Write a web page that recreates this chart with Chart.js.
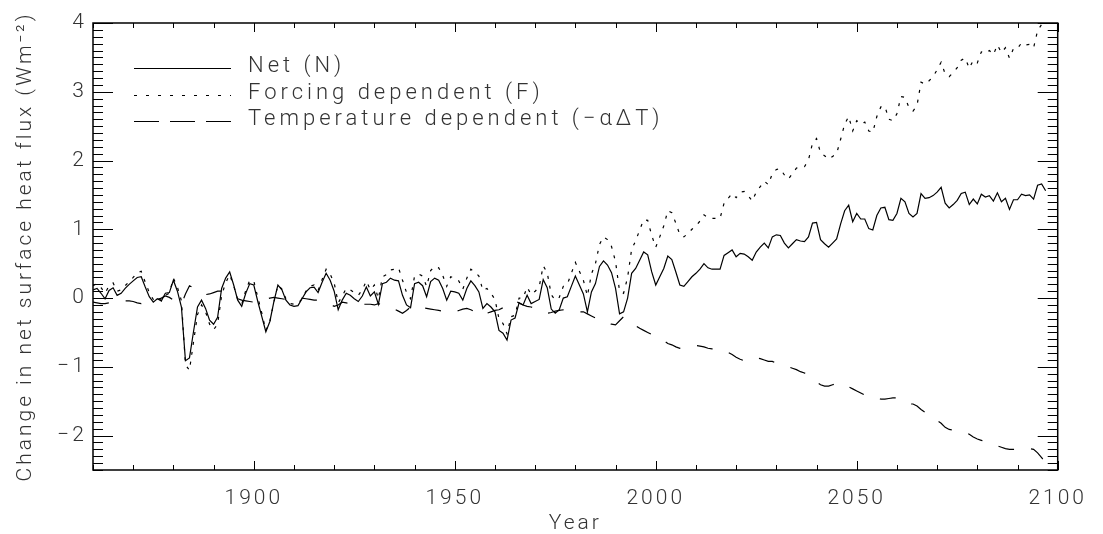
<!DOCTYPE html>
<html>
<head>
<meta charset="utf-8">
<script src="https://cdn.jsdelivr.net/npm/chart.js@4.4.1/dist/chart.umd.min.js"></script>
<style>
  html, body { margin: 0; padding: 0; background: #fff; }
  #wrap { width: 1103px; height: 534px; }
</style>
</head>
<body>
<div id="wrap"><canvas id="fluxChart" width="1103" height="534"></canvas></div>
<script>
// Annual values, first year 1860, last year 2097 (Wm-2)
const firstYear = 1860;

const netFlux = [
  0.12, 0.14, 0.07, -0.01, 0.11, 0.15, 0.04, 0.07, 0.14, 0.20,
  0.25, 0.30, 0.31, 0.16, 0.02, -0.06, -0.01, -0.04, 0.07, 0.08,
  0.26, 0.10, -0.13, -0.91, -0.87, -0.49, -0.13, -0.03, -0.15, -0.32,
  -0.38, -0.28, 0.14, 0.29, 0.38, 0.19, -0.03, -0.12, 0.07, 0.21,
  0.19, -0.05, -0.27, -0.49, -0.34, -0.05, 0.19, 0.12, -0.03, -0.10,
  -0.12, -0.11, -0.01, 0.09, 0.15, 0.16, 0.08, 0.23, 0.36, 0.26,
  0.10, -0.17, -0.03, 0.07, 0.04, -0.01, -0.05, 0.03, 0.16, 0.03,
  0.09, -0.09, 0.21, 0.23, 0.29, 0.26, 0.25, 0.04, -0.10, -0.14,
  0.21, 0.23, 0.18, 0.02, 0.24, 0.29, 0.26, 0.14, -0.03, 0.10,
  0.09, 0.07, -0.03, 0.14, 0.25, 0.18, 0.09, -0.15, -0.08, -0.13,
  -0.20, -0.47, -0.51, -0.61, -0.32, -0.29, -0.07, -0.10, 0.04, -0.08,
  -0.05, -0.02, 0.27, 0.15, -0.16, -0.22, -0.17, 0.00, 0.02, 0.17,
  0.32, 0.19, 0.06, -0.20, 0.09, 0.21, 0.46, 0.54, 0.48, 0.37,
  0.14, -0.23, -0.20, 0.00, 0.36, 0.43, 0.55, 0.67, 0.63, 0.38,
  0.19, 0.31, 0.43, 0.61, 0.56, 0.38, 0.19, 0.17, 0.24, 0.31,
  0.36, 0.42, 0.50, 0.44, 0.42, 0.42, 0.42, 0.62, 0.66, 0.70,
  0.60, 0.65, 0.64, 0.60, 0.55, 0.67, 0.74, 0.80, 0.73, 0.89,
  0.92, 0.91, 0.80, 0.73, 0.79, 0.85, 0.83, 0.82, 0.89, 1.09,
  1.10, 0.85, 0.79, 0.74, 0.80, 0.86, 1.08, 1.27, 1.35, 1.11,
  1.23, 1.15, 1.15, 1.01, 0.99, 1.20, 1.31, 1.32, 1.14, 1.13,
  1.23, 1.45, 1.40, 1.23, 1.18, 1.23, 1.52, 1.45, 1.46, 1.49,
  1.54, 1.61, 1.38, 1.31, 1.36, 1.42, 1.52, 1.54, 1.36, 1.44,
  1.37, 1.51, 1.47, 1.49, 1.41, 1.53, 1.40, 1.45, 1.29, 1.43,
  1.43, 1.51, 1.49, 1.50, 1.44, 1.64, 1.66, 1.56
];

const forcingFlux = [
  0.18, 0.21, 0.15, 0.07, 0.18, 0.22, 0.10, 0.12, 0.18, 0.24,
  0.30, 0.37, 0.39, 0.23, 0.08, -0.02, 0.01, -0.04, 0.04, 0.07,
  0.29, 0.16, -0.04, -0.97, -1.05, -0.64, -0.24, -0.10, -0.20, -0.38,
  -0.46, -0.38, 0.04, 0.22, 0.34, 0.18, -0.02, -0.09, 0.11, 0.26,
  0.25, 0.01, -0.22, -0.47, -0.34, -0.06, 0.19, 0.13, -0.01, -0.08,
  -0.09, -0.08, -0.01, 0.10, 0.17, 0.19, 0.11, 0.27, 0.42, 0.35,
  0.22, -0.07, 0.03, 0.14, 0.12, 0.08, 0.04, 0.12, 0.25, 0.12,
  0.19, -0.01, 0.31, 0.34, 0.41, 0.42, 0.44, 0.26, 0.08, -0.01,
  0.32, 0.35, 0.32, 0.17, 0.40, 0.46, 0.44, 0.33, 0.17, 0.31,
  0.29, 0.25, 0.13, 0.29, 0.42, 0.38, 0.32, 0.11, 0.14, 0.07,
  -0.02, -0.30, -0.37, -0.52, -0.27, -0.25, 0.00, 0.00, 0.16, 0.05,
  0.10, 0.16, 0.47, 0.37, 0.05, -0.03, 0.01, 0.17, 0.20, 0.36,
  0.52, 0.39, 0.26, 0.03, 0.35, 0.50, 0.78, 0.89, 0.85, 0.75,
  0.53, 0.10, 0.07, 0.30, 0.71, 0.83, 0.99, 1.14, 1.13, 0.91,
  0.74, 0.89, 1.05, 1.27, 1.24, 1.09, 0.92, 0.89, 0.94, 1.00,
  1.05, 1.12, 1.21, 1.17, 1.16, 1.16, 1.16, 1.38, 1.45, 1.52,
  1.46, 1.54, 1.55, 1.49, 1.41, 1.54, 1.62, 1.70, 1.65, 1.81,
  1.87, 1.88, 1.79, 1.73, 1.81, 1.89, 1.90, 1.91, 2.01, 2.25,
  2.32, 2.11, 2.07, 2.02, 2.06, 2.10, 2.31, 2.53, 2.64, 2.43,
  2.58, 2.53, 2.56, 2.43, 2.41, 2.64, 2.78, 2.79, 2.60, 2.58,
  2.68, 2.93, 2.92, 2.77, 2.72, 2.80, 3.14, 3.11, 3.16, 3.22,
  3.32, 3.43, 3.26, 3.22, 3.28, 3.35, 3.46, 3.49, 3.34, 3.46,
  3.42, 3.58, 3.56, 3.60, 3.54, 3.68, 3.57, 3.64, 3.49, 3.63,
  3.63, 3.71, 3.68, 3.69, 3.64, 3.89, 3.98, 3.95
];

const tempFlux = [
  -0.06, -0.07, -0.08, -0.08, -0.07, -0.07, -0.06, -0.05, -0.04, -0.04,
  -0.05, -0.07, -0.08, -0.07, -0.06, -0.04, -0.02, 0.00, 0.03, 0.01,
  -0.03, -0.06, -0.09, 0.06, 0.18, 0.15, 0.11, 0.07, 0.05, 0.06,
  0.08, 0.10, 0.10, 0.07, 0.04, 0.01, -0.01, -0.03, -0.04, -0.05,
  -0.06, -0.06, -0.05, -0.02, 0.00, 0.01, 0.00, -0.01, -0.02, -0.02,
  -0.03, -0.03, 0.00, -0.01, -0.02, -0.03, -0.03, -0.04, -0.06, -0.09,
  -0.12, -0.10, -0.06, -0.07, -0.08, -0.09, -0.09, -0.09, -0.09, -0.09,
  -0.10, -0.08, -0.10, -0.11, -0.12, -0.16, -0.19, -0.22, -0.18, -0.13,
  -0.11, -0.12, -0.14, -0.15, -0.16, -0.17, -0.18, -0.19, -0.20, -0.21,
  -0.20, -0.18, -0.16, -0.15, -0.17, -0.20, -0.23, -0.26, -0.22, -0.20,
  -0.18, -0.17, -0.14, -0.09, -0.05, -0.04, -0.07, -0.10, -0.12, -0.13,
  -0.15, -0.18, -0.20, -0.22, -0.21, -0.19, -0.18, -0.17, -0.18, -0.19,
  -0.20, -0.20, -0.20, -0.23, -0.26, -0.29, -0.32, -0.35, -0.37, -0.38,
  -0.39, -0.33, -0.27, -0.30, -0.35, -0.40, -0.44, -0.47, -0.50, -0.53,
  -0.55, -0.58, -0.62, -0.66, -0.68, -0.71, -0.73, -0.72, -0.70, -0.69,
  -0.69, -0.70, -0.71, -0.73, -0.74, -0.74, -0.74, -0.76, -0.79, -0.82,
  -0.86, -0.89, -0.91, -0.89, -0.86, -0.87, -0.88, -0.90, -0.92, -0.92,
  -0.95, -0.97, -0.99, -1.00, -1.02, -1.04, -1.07, -1.09, -1.12, -1.16,
  -1.22, -1.26, -1.28, -1.28, -1.26, -1.24, -1.23, -1.26, -1.29, -1.32,
  -1.35, -1.38, -1.41, -1.42, -1.42, -1.44, -1.47, -1.47, -1.46, -1.45,
  -1.45, -1.48, -1.52, -1.54, -1.54, -1.57, -1.62, -1.66, -1.70, -1.73,
  -1.78, -1.82, -1.88, -1.91, -1.92, -1.93, -1.94, -1.95, -1.98, -2.02,
  -2.05, -2.07, -2.09, -2.11, -2.13, -2.15, -2.17, -2.19, -2.20, -2.20,
  -2.20, -2.20, -2.19, -2.19, -2.20, -2.25, -2.32, -2.39
];

const seriesLabels = ['Net (N)', 'Forcing dependent (F)', 'Temperature dependent (\u2212\u03B1\u0394T)'];
const xTickValues = [1900, 1950, 2000, 2050, 2100];
const yTickValues = [-2, -1, 0, 1, 2, 3, 4];

const textColor = '#333';
const tickFont = { family: 'Roboto', size: 21, weight: 300 };

// Turn an annual series into {x, y} points
function toPoints(values) {
    return values.map((v, i) => ({ x: firstYear + i, y: v }));
}

// Frame, inward IDL-style tick marks and the legend in the upper left
const frameAndLegend = {
    id: 'frameAndLegend',
    beforeLayout(chart) { chart.ctx.letterSpacing = '3px'; },
    beforeDraw(chart) { chart.ctx.letterSpacing = '3px'; },
    afterDraw(chart) {
        const ctx = chart.ctx;
        const a = chart.chartArea;
        const xs = chart.scales.x;
        const ys = chart.scales.y;
        ctx.save();
        ctx.strokeStyle = '#000';
        ctx.lineWidth = 1.5;
        ctx.strokeRect(a.left, a.top, a.right - a.left, a.bottom - a.top);

        ctx.lineWidth = 1;
        ctx.beginPath();
        for (let i = -25; i <= 40; i++) {
            const py = Math.round(ys.getPixelForValue(i / 10)) + 0.5;
            const len = i % 10 === 0 ? 20 : 10;
            ctx.moveTo(a.left, py); ctx.lineTo(a.left + len, py);
            ctx.moveTo(a.right, py); ctx.lineTo(a.right - len, py);
        }
        for (let yr = 1860; yr <= 2100; yr += 10) {
            const px = Math.round(xs.getPixelForValue(yr)) + 0.5;
            const len = yr % 50 === 0 ? 9 : 5;
            ctx.moveTo(px, a.bottom); ctx.lineTo(px, a.bottom - len);
            ctx.moveTo(px, a.top); ctx.lineTo(px, a.top + len);
        }
        ctx.stroke();

        // legend
        const lx0 = a.left + 41, lx1 = a.left + 138;
        const rows = [a.top + 45, a.top + 72, a.top + 98];
        const dashes = [[], [3, 9], [25, 11]];
        ctx.letterSpacing = '4px';
        ctx.font = '300 22px Roboto';
        ctx.fillStyle = textColor;
        ctx.textBaseline = 'middle';
        ctx.textAlign = 'left';
        rows.forEach((ry, i) => {
            ctx.beginPath();
            ctx.setLineDash(dashes[i]);
            ctx.lineWidth = 1.2;
            ctx.moveTo(lx0, ry + 0.5);
            ctx.lineTo(lx1, ry + 0.5);
            ctx.stroke();
            ctx.fillText(seriesLabels[i], a.left + 155, ry - 2);
        });
        ctx.restore();
    }
};

document.addEventListener('DOMContentLoaded', function() {
    const ctx = document.getElementById('fluxChart').getContext('2d');
    new Chart(ctx, {
        type: 'line',
        data: {
            datasets: [
                { label: seriesLabels[0], data: toPoints(netFlux), borderColor: '#000', borderWidth: 1.2 },
                { label: seriesLabels[1], data: toPoints(forcingFlux), borderColor: '#000', borderWidth: 1.2, borderDash: [3, 7] },
                { label: seriesLabels[2], data: toPoints(tempFlux), borderColor: '#000', borderWidth: 1.2, borderDash: [16, 17] }
            ]
        },
        options: {
            responsive: false,
            animation: false,
            devicePixelRatio: 1,
            layout: { padding: { left: 0, right: 31, top: 23, bottom: 0 } },
            elements: { point: { radius: 0 }, line: { tension: 0 } },
            plugins: { legend: { display: false }, tooltip: { enabled: false } },
            scales: {
                x: {
                    type: 'linear',
                    min: 1860,
                    max: 2100,
                    afterBuildTicks: (scale) => { scale.ticks = xTickValues.map(v => ({ value: v })); },
                    afterFit: (scale) => { scale.height = 64; },
                    grid: { display: false, drawTicks: false },
                    border: { display: false },
                    ticks: {
                        color: textColor, font: tickFont, padding: 16, maxRotation: 0,
                        callback: (v) => String(v)
                    },
                    title: { display: true, text: 'Year', color: textColor, font: tickFont, padding: { top: 0, bottom: -2 } }
                },
                y: {
                    min: -2.5,
                    max: 4,
                    afterBuildTicks: (scale) => { scale.ticks = yTickValues.map(v => ({ value: v })); },
                    afterFit: (scale) => { scale.width = 93; },
                    grid: { display: false, drawTicks: false },
                    border: { display: false },
                    ticks: {
                        color: textColor, font: tickFont, padding: 6,
                        callback: (v) => (v < 0 ? '\u2212' + Math.abs(v) : String(v))
                    },
                    title: {
                        display: true, text: 'Change in net surface heat flux (Wm\u207B\u00B2)',
                        color: textColor, font: tickFont, padding: { top: 13, bottom: 0 }
                    }
                }
            }
        },
        plugins: [frameAndLegend]
    });
});
</script>
</body>
</html>
